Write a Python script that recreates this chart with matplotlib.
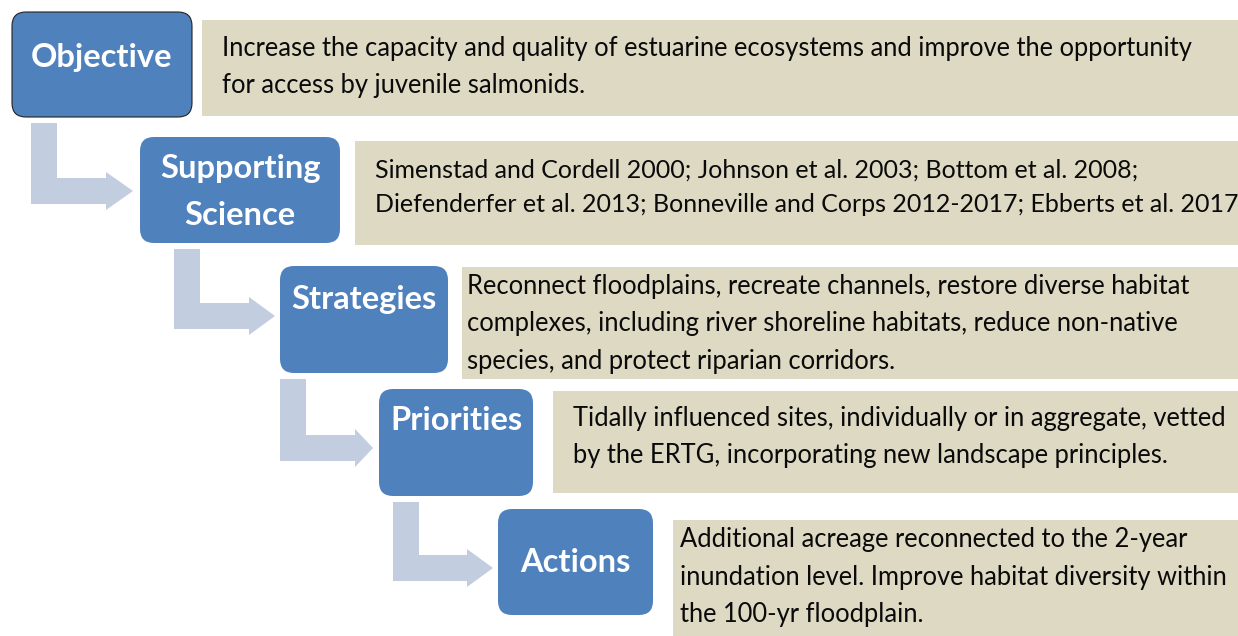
import matplotlib.pyplot as plt
from matplotlib.patches import FancyBboxPatch, Rectangle, Polygon

# content
stages = ['Objective', 'Supporting\nScience', 'Strategies', 'Priorities', 'Actions']
descriptions = [
    'Increase the capacity and quality of estuarine ecosystems and improve the opportunity\n'
    'for access by juvenile salmonids.',
    'Simenstad and Cordell 2000; Johnson et al. 2003; Bottom et al. 2008;\n'
    'Diefenderfer et al. 2013; Bonneville and Corps 2012-2017; Ebberts et al. 2017',
    'Reconnect floodplains, recreate channels, restore diverse habitat\n'
    'complexes, including river shoreline habitats, reduce non-native\n'
    'species, and protect riparian corridors.',
    'Tidally influenced sites, individually or in aggregate, vetted\n'
    'by the ERTG, incorporating new landscape principles.',
    'Additional acreage reconnected to the 2-year\n'
    'inundation level. Improve habitat diversity within\n'
    'the 100-yr floodplain.',
]

# layout in pixels (x0, y0, x1, y1), y grows downward
blue_boxes = [(12, 12, 192, 117), (140, 137, 340, 243), (280, 266, 448, 373),
              (379, 389, 533, 496), (498, 509, 653, 615)]
label_y = [58, 192, 300, 420, 563]
tan_boxes = [(202, 20, 1238, 116), (355, 141, 1238, 245), (462, 267, 1238, 379),
             (553, 391, 1238, 493), (673, 520, 1238, 636)]
text_pos = [(222, 67), (375, 187), (467, 324), (573, 437), (680, 577)]
text_size = [18.4, 18.0, 18.4, 18.4, 18.4]
# arrows: vertical bar x, top y, bar center y, head base x, tip x
arrows = [(31, 123, 191, 106, 133), (174, 249, 316, 249, 275),
          (280, 379, 448, 355, 373), (393, 502, 568, 467, 493)]

BLUE = '#4F81BD'
TAN = '#DDD9C3'
ARROW = '#C3CDE0'
BAR_W = 26
HEAD_H = 19

plt.rcParams['font.family'] = ['Lato', 'DejaVu Sans']

fig = plt.figure(figsize=(12.38, 6.36), dpi=100)
ax = fig.add_axes([0, 0, 1, 1])
ax.set_xlim(0, 1238)
ax.set_ylim(636, 0)
ax.axis('off')

for x, top, cy, hx, tip in arrows:
    half = BAR_W / 2
    pts = [(x, top), (x + BAR_W, top), (x + BAR_W, cy - half), (hx, cy - half),
           (hx, cy - HEAD_H), (tip, cy), (hx, cy + HEAD_H), (hx, cy + half),
           (x, cy + half)]
    ax.add_patch(Polygon(pts, closed=True, facecolor=ARROW, edgecolor='none'))

for (x0, y0, x1, y1), txt, (tx, ty), fs in zip(tan_boxes, descriptions, text_pos, text_size):
    ax.add_patch(Rectangle((x0, y0), x1 - x0, y1 - y0, facecolor=TAN, edgecolor='none'))
    ax.text(tx, ty, txt, fontsize=fs, color='#0a0a0a', ha='left', va='center',
            linespacing=1.62)

for i, ((x0, y0, x1, y1), name) in enumerate(zip(blue_boxes, stages)):
    r = 14
    ax.add_patch(FancyBboxPatch((x0 + r, y0 + r), x1 - x0 - 2 * r, y1 - y0 - 2 * r,
                                boxstyle=f'round,pad={r}', facecolor=BLUE,
                                edgecolor='#222222' if i == 0 else 'none',
                                linewidth=0.8))
    ax.text((x0 + x1) / 2, label_y[i], name, fontsize=23.5, fontweight='bold',
            color='white', ha='center', va='center', linespacing=1.75)

fig.savefig('out.png', dpi=100)
